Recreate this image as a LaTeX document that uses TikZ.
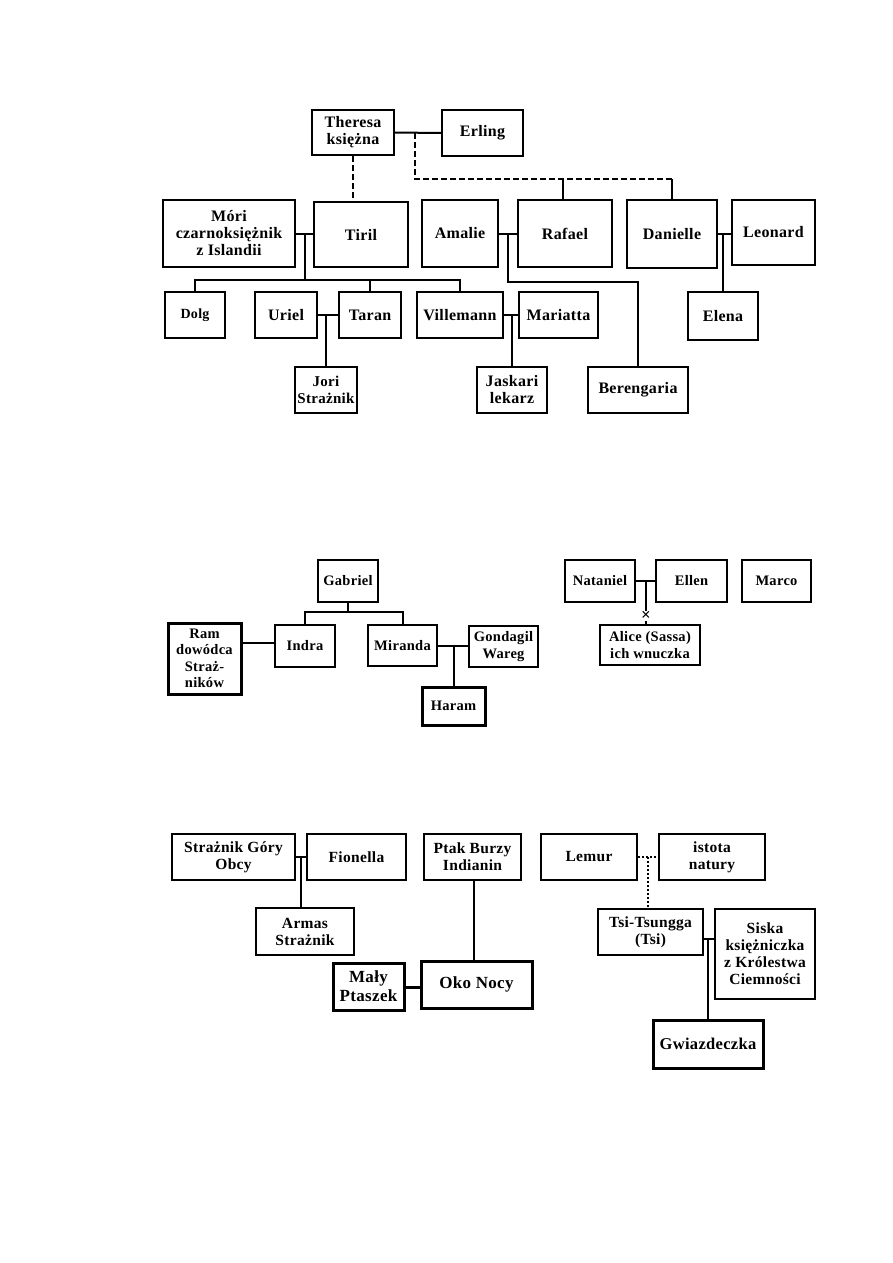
\documentclass[tikz,border=0pt]{standalone}
\usepackage{fontspec}
\setmainfont{Liberation Serif}[LetterSpace=2]
\tikzset{
  box/.style={draw, line width=2pt, inner sep=1pt, align=center, fill=white},
  heavy/.style={line width=3pt},
  ftop/.style={font=\bfseries\fontsize{16}{17}\selectfont},
  fmid/.style={font=\bfseries\fontsize{14.5}{16.5}\selectfont},
  fbot/.style={font=\bfseries\fontsize{15.5}{17}\selectfont},
  fbig/.style={font=\bfseries\fontsize{17}{19}\selectfont},
  conn/.style={line width=2pt},
  dashconn/.style={line width=2pt, dash pattern=on 6pt off 3pt},
  dotconn/.style={line width=2pt, dash pattern=on 2pt off 2pt},
}
\newcommand\bx[7][]{\node[box,#1,minimum width={(#4-#2)*1pt},minimum height={(#5-#3)*1pt}] (#6) at ({(#2+#4)/2},{(#3+#5)/2}) {#7};}
\begin{document}
\begin{tikzpicture}[x=1pt,y=-1pt]
\fill[white] (0,0) rectangle (893,1263);
\useasboundingbox (0,0) rectangle (893,1263);

% ---------- top tree ----------
\bx[ftop]{312}{110}{394}{155}{theresa}{Theresa\\księżna}
\bx[ftop]{442}{110}{523}{156}{erling}{Erling}
\bx[ftop]{163}{200}{295}{267}{mori}{Móri\\czarnoksiężnik\\z Islandii}
\bx[ftop]{314}{202}{408}{267}{tiril}{Tiril}
\bx[ftop]{422}{200}{498}{267}{amalie}{Amalie}
\bx[ftop]{518}{200}{612}{267}{rafael}{Rafael}
\bx[ftop]{627}{200}{717}{268}{danielle}{Danielle}
\bx[ftop]{732}{200}{815}{265}{leonard}{Leonard}
\bx[font=\bfseries\fontsize{14}{16}\selectfont]{165}{292}{225}{338}{dolg}{Dolg}
\bx[ftop]{255}{292}{317}{338}{uriel}{Uriel}
\bx[ftop]{339}{292}{401}{338}{taran}{Taran}
\bx[ftop]{417}{292}{503}{338}{villemann}{Villemann}
\bx[ftop]{519}{292}{598}{338}{mariatta}{Mariatta}
\bx[ftop]{688}{292}{758}{340}{elena}{Elena}
\bx[font=\bfseries\fontsize{15}{17}\selectfont,line width=2.5pt,inner sep=0pt]{295}{367}{357}{413}{jori}{Jori\\Strażnik}
\bx[ftop]{477}{367}{547}{413}{jaskari}{Jaskari\\lekarz}
\bx[ftop]{588}{367}{688}{413}{berengaria}{Berengaria}

\draw[conn] (theresa.east) -- (erling.west);
\coordinate (m1) at (415,133);
\coordinate (kids) at (415,179);
\draw[dashconn] (m1) -- (kids) -- (kids -| danielle.north);
\draw[conn] (kids -| danielle.north) -- (danielle.north);
\draw[conn] (kids -| 563,0) -- (rafael.north -| 563,0);
\draw[dashconn] (theresa.south) -- (theresa.south |- tiril.north);

\draw[conn] (mori.east) -- (tiril.west |- mori.east);
\coordinate (mt) at (305,233.5);
\coordinate (bar1) at (305,280);
\draw[conn] (mt) -- (bar1);
\draw[conn] (dolg.north) -- (dolg.north |- bar1) -- (bar1 -| villemann.north) -- (villemann.north);
\draw[conn] (bar1 -| taran.north) -- (taran.north);

\draw[conn] (amalie.east) -- (rafael.west |- amalie.east);
\coordinate (ar) at (508,233.5);
\coordinate (ar2) at (508,282);
\draw[conn] (ar) -- (ar2) -- (ar2 -| berengaria.north) -- (berengaria.north);

\draw[conn] (danielle.east) -- (leonard.west |- danielle.east);
\draw[conn] (elena.north |- danielle.east) -- (elena.north);

\draw[conn] (uriel.east) -- (taran.west);
\draw[conn] (jori.north |- uriel.east) -- (jori.north);
\draw[conn] (villemann.east) -- (mariatta.west);
\draw[conn] (jaskari.north |- villemann.east) -- (jaskari.north);

% ---------- middle ----------
\bx[fmid]{318}{560}{378}{602}{gabriel}{Gabriel}
\bx[fmid]{275}{625}{335}{667}{indra}{Indra}
\bx[fmid]{368}{625}{437}{666}{miranda}{Miranda}
\bx[fmid,heavy]{168}{623}{241}{694}{ram}{Ram\\dowódca\\Straż-\\ników}
\bx[fmid]{469}{626}{538}{667}{gondagil}{Gondagil\\Wareg}
\bx[fmid,heavy]{422}{687}{485}{725}{haram}{Haram}
\bx[fmid]{565}{560}{635}{602}{nataniel}{Nataniel}
\bx[fmid]{656}{560}{727}{602}{ellen}{Ellen}
\bx[fmid]{600}{625}{700}{665}{alice}{Alice (Sassa)\\ich wnuczka}
\bx[fmid]{742}{560}{811}{602}{marco}{Marco}

\coordinate (gb) at (349,612);
\draw[conn] (gabriel.south) -- (gabriel.south |- gb);
\draw[conn] (indra.north) -- (indra.north |- gb) -- (gb -| miranda.north) -- (miranda.north);
\draw[conn] (ram.east |- 0,643) -- (indra.west |- 0,643);
\draw[conn] (miranda.east) -- (gondagil.west |- miranda.east);
\draw[conn] (haram.north |- miranda.east) -- (haram.north);
\draw[conn] (nataniel.east) -- (ellen.west);
\coordinate (ne) at (646,581);
\draw[conn] (ne) -- (ne |- alice.north);
\node[font=\bfseries\fontsize{17}{17}\selectfont, inner sep=0pt, fill=white] (cross) at (646,616) {×};

% ---------- bottom ----------
\bx[fbot]{172}{834}{295}{880}{straznik}{Strażnik Góry\\Obcy}
\bx[fbot]{307}{834}{406}{880}{fionella}{Fionella}
\bx[fbot]{256}{908}{354}{955}{armas}{Armas\\Strażnik}
\bx[fbot]{424}{834}{521}{880}{ptak}{Ptak Burzy\\Indianin}
\bx[fbig,heavy]{421}{961}{532}{1008}{oko}{Oko Nocy}
\bx[fbig,heavy]{333}{963}{404}{1010}{maly}{Mały\\Ptaszek}
\bx[fbot]{541}{834}{637}{880}{lemur}{Lemur}
\bx[fbot]{659}{834}{765}{880}{istota}{istota\\natury}
\bx[fbot]{598}{909}{703}{955}{tsi}{Tsi-Tsungga\\(Tsi)}
\bx[fbot]{715}{909}{815}{999}{siska}{Siska\\księżniczka\\z Królestwa\\Ciemności}
\bx[font=\bfseries\fontsize{16.5}{19}\selectfont,heavy]{653}{1020}{763}{1068}{gwiazdeczka}{Gwiazdeczka}

\draw[conn] (straznik.east) -- (fionella.west);
\coordinate (sf) at (301,857);
\draw[conn] (sf) -- (sf |- armas.north);
\draw[conn] (ptak.south -| 474,0) -- (oko.north -| 474,0);
\draw[conn,line width=3pt] (maly.east |- 0,987) -- (oko.west |- 0,987);
\draw[dotconn] (lemur.east) -- (istota.west);
\coordinate (li) at (648,857);
\draw[dotconn] (li) -- (li |- tsi.north);
\coordinate (ts) at (708,939);
\draw[conn] (tsi.east |- ts) -- (siska.west |- ts);
\draw[conn] (ts) -- (ts |- gwiazdeczka.north);
\end{tikzpicture}
\end{document}
